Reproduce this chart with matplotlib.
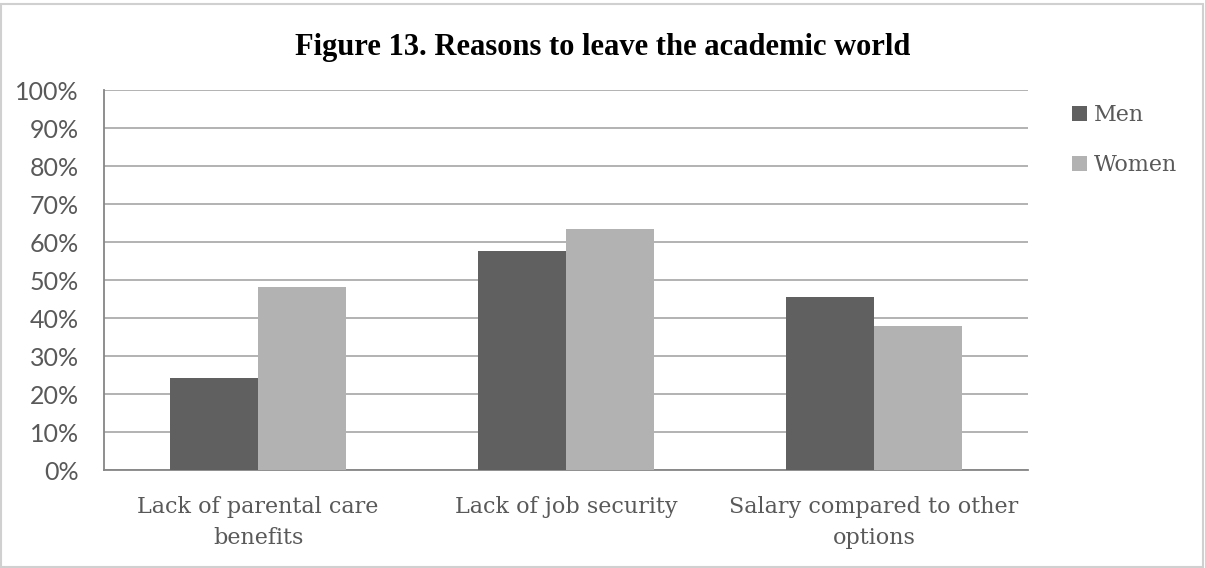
import matplotlib.pyplot as plt
from matplotlib.patches import Rectangle
import numpy as np

categories = ['Lack of parental care\nbenefits', 'Lack of job security', 'Salary compared to other\noptions']
men = [24.1, 57.6, 45.4]
women = [48.2, 63.3, 37.9]
series_names = ['Men', 'Women']
yticks = [0, 10, 20, 30, 40, 50, 60, 70, 80, 90, 100]

fig = plt.figure(figsize=(12.05, 5.68), dpi=100)
ax = fig.add_axes([104/1205, 1-470/568, 924/1205, 380/568])

x = np.arange(len(categories))
w = 0.2857
b1 = ax.bar(x - w/2, men, w, color='#606060', label=series_names[0], zorder=3)
b2 = ax.bar(x + w/2, women, w, color='#b2b2b2', label=series_names[1], zorder=3)

ax.set_xlim(-0.5, 2.5)
ax.set_ylim(0, 100)
ax.set_yticks(yticks)
ax.set_yticklabels([f'{t}%' for t in yticks], fontfamily='Lato', fontsize=18, color='#595959')
ax.set_xticks(x)
ax.set_xticklabels(categories, fontfamily='DejaVu Serif', fontsize=16, color='#595959', linespacing=1.5)
ax.tick_params(axis='both', length=0)
ax.tick_params(axis='y', pad=18)
ax.tick_params(axis='x', pad=19)

ax.grid(axis='y', color='#a6a6a6', linewidth=1.2, zorder=0)
for s in ['top', 'right']:
    ax.spines[s].set_visible(False)
for s in ['left', 'bottom']:
    ax.spines[s].set_color('#868686')
    ax.spines[s].set_linewidth(1.3)

fig.text(0.5, 1-47/568, 'Figure 13. Reasons to leave the academic world', ha='center', va='center',
         fontfamily='Liberation Serif', fontweight='bold', fontsize=22)

fig.legend(handles=[b1, b2], loc='upper left', bbox_to_anchor=(1072/1205, 1-104/568),
           frameon=False, borderpad=0, borderaxespad=0, handlelength=0.68, handleheight=0.68,
           handletextpad=0.3, labelspacing=1.27,
           prop={'family': 'DejaVu Serif', 'size': 16}, labelcolor='#595959')

fig.patches.append(Rectangle((1/1205, 1/568), 1-3/1205, 1-5/568, transform=fig.transFigure,
                             fill=False, edgecolor='#d0d0d0', linewidth=1.5))

fig.savefig('out.png', dpi=100)
